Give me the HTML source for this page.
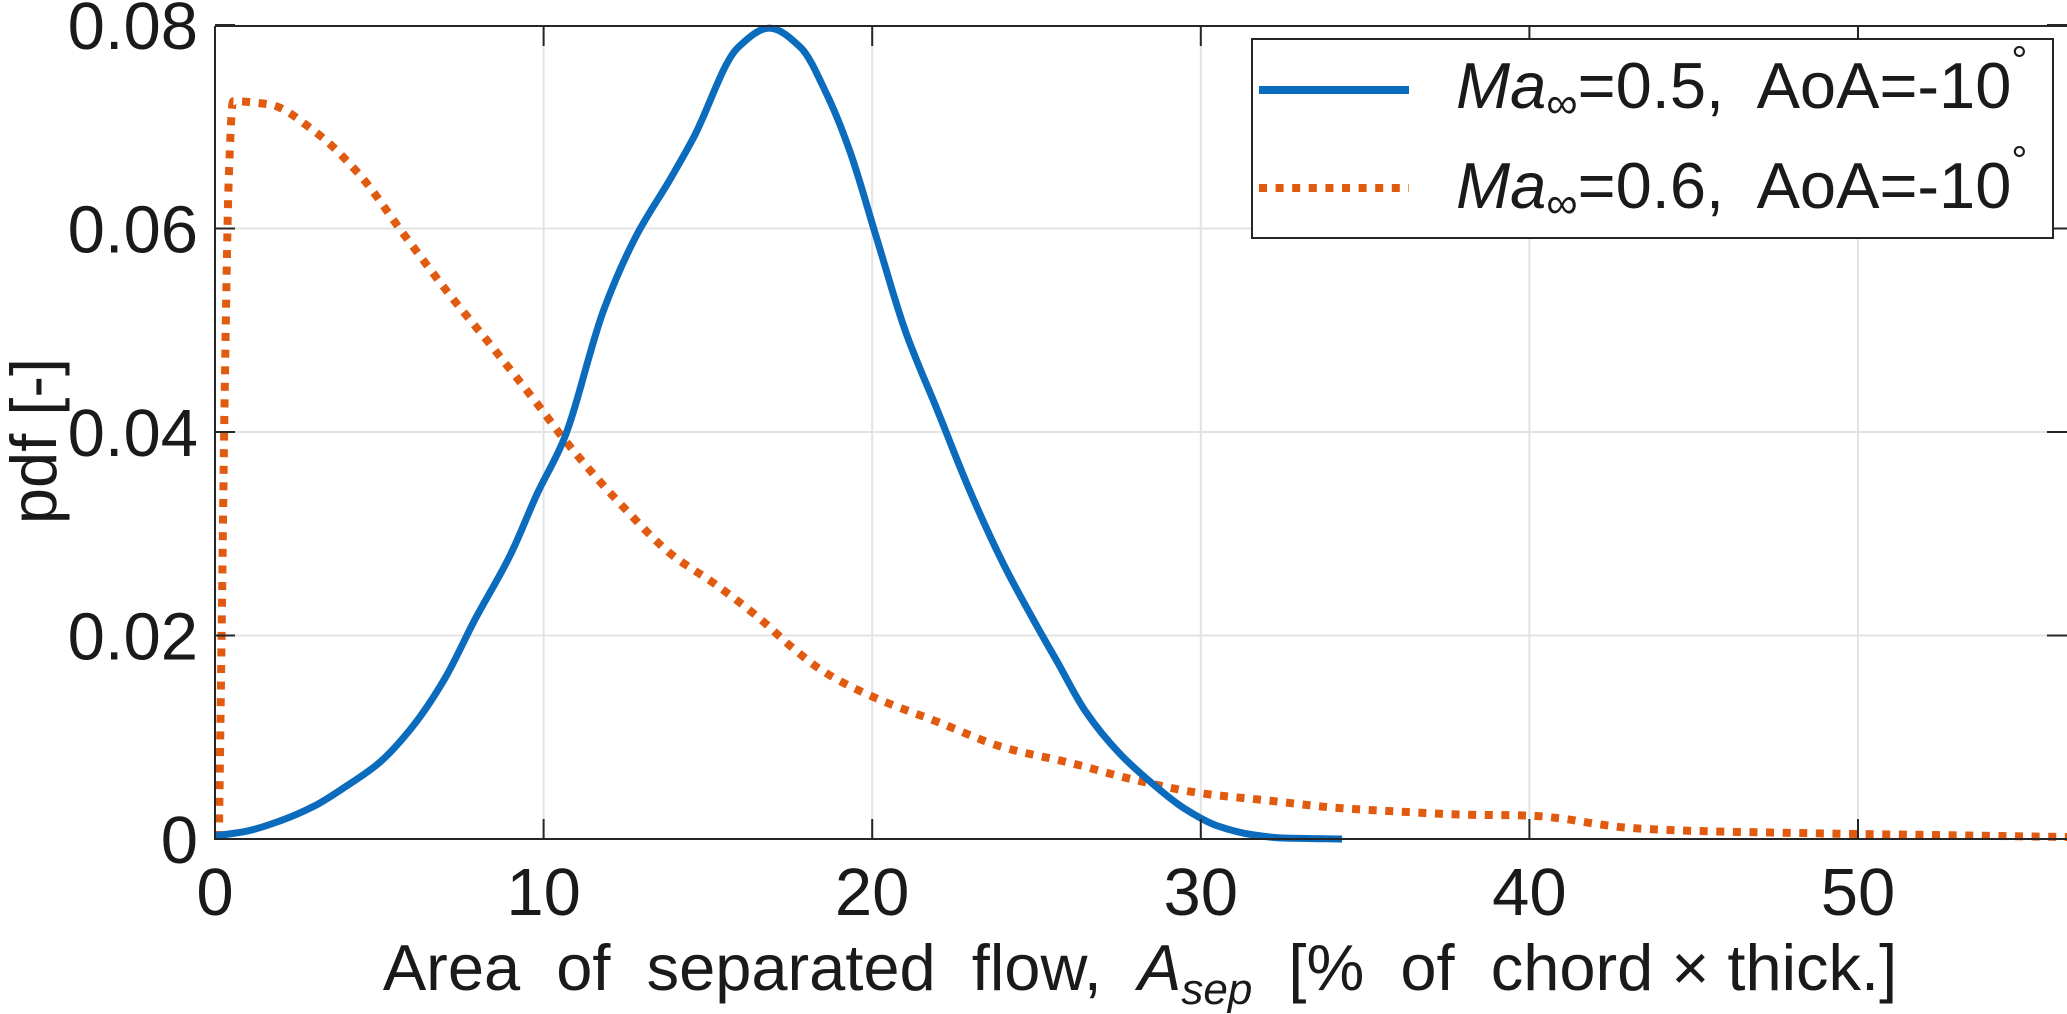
<!DOCTYPE html>
<html><head><meta charset="utf-8"><style>
html,body{margin:0;padding:0;background:#fff;}
svg{display:block;font-family:"Liberation Sans",Arial,sans-serif;}
</style></head><body>
<svg id="chart" width="2067" height="1014" viewBox="0 0 2067 1014" xmlns="http://www.w3.org/2000/svg">
<g id="grid"></g>
<g id="series"></g>
<g id="axes"></g>
<text x="1140" y="990" font-size="65" text-anchor="middle" fill="#1a1a1a" style="white-space:pre" xml:space="preserve">Area  of  separated  flow,  <tspan font-style="italic">A</tspan><tspan font-style="italic" font-size="44" dy="14">sep</tspan><tspan dy="-14">  [%  of  chord × thick.]</tspan></text>
<text x="0" y="0" font-size="65" text-anchor="middle" fill="#1a1a1a" transform="translate(56,441) rotate(-90)">pdf [-]</text>
<g>
<rect x="1252" y="39" width="801" height="199" fill="#fff" stroke="#262626" stroke-width="2"/>
<line x1="1259" y1="90" x2="1409" y2="90" stroke="#0b6cbd" stroke-width="8"/>
<line x1="1259" y1="188" x2="1409" y2="188" stroke="#e05a10" stroke-width="8" stroke-dasharray="8 8.6"/>
<text x="1456" y="108" font-size="65" fill="#1a1a1a" style="white-space:pre" xml:space="preserve"><tspan font-style="italic">Ma</tspan><tspan font-size="44" dy="10">∞</tspan><tspan dy="-10">=0.5,  AoA=-10</tspan><tspan font-size="40" dy="-34">°</tspan></text>
<text x="1456" y="208" font-size="65" fill="#1a1a1a" style="white-space:pre" xml:space="preserve"><tspan font-style="italic">Ma</tspan><tspan font-size="44" dy="10">∞</tspan><tspan dy="-10">=0.6,  AoA=-10</tspan><tspan font-size="40" dy="-34">°</tspan></text>
</g>
</svg>
<script>
const xTicks = [0, 10, 20, 30, 40, 50];
const yTicks = [0, 0.02, 0.04, 0.06, 0.08];
const yTickLabels = ["0", "0.02", "0.04", "0.06", "0.08"];
const blueX = [0, 1, 2, 3, 4, 5, 6, 7, 7.9, 9, 9.8, 10.62, 11.84, 12.79, 13.88, 14.56, 15.92, 16.87, 17.82, 18.63, 19.31, 20.13, 21, 22, 23, 24, 25, 25.6, 26.5, 27.5, 28.4, 29.5, 30.5, 31.6, 32.5, 34.3];
const blueY = [0.0003, 0.0008, 0.0018, 0.0032, 0.0052, 0.0075, 0.011, 0.0158, 0.0215, 0.028, 0.0339, 0.0393, 0.0521, 0.0591, 0.065, 0.0689, 0.0778, 0.0797, 0.0778, 0.0731, 0.0677, 0.0591, 0.050, 0.042, 0.034, 0.027, 0.021, 0.0176, 0.0125, 0.0085, 0.0058, 0.003, 0.0013, 0.0004, 0.0001, 0];
const orangeX = [0.12, 0.2, 0.3, 0.42, 0.55, 1.65, 3.01, 4.37, 5.73, 7.09, 8.45, 9.8, 10.62, 12.52, 13.88, 15.24, 16.6, 17.5, 18.5, 20, 22, 24, 26, 28, 30, 32, 34, 36, 38, 40, 41, 42, 43, 45, 48, 52, 56.4];
const orangeY = [0, 0.02, 0.045, 0.065, 0.0725, 0.0722, 0.0696, 0.0654, 0.0595, 0.0537, 0.0483, 0.0428, 0.0393, 0.0323, 0.028, 0.025, 0.0216, 0.019, 0.0165, 0.014, 0.0115, 0.009, 0.0075, 0.0058, 0.0045, 0.0038, 0.0031, 0.0027, 0.0024, 0.0023, 0.002, 0.0015, 0.0011, 0.0008, 0.0006, 0.0004, 0.0002];

const NS = "http://www.w3.org/2000/svg";
const X0 = 215, PX10 = 328.6, Y0 = 839, PY = 10175;
const XMAX = 2067, YTOP = 26;
function sx(v){ return X0 + v * PX10 / 10; }
function sy(v){ return Y0 - v * PY; }
function mk(tag, attrs, parent){
  const e = document.createElementNS(NS, tag);
  for (const k in attrs) e.setAttribute(k, attrs[k]);
  parent.appendChild(e); return e;
}
const grid = document.getElementById('grid');
const axes = document.getElementById('axes');
const series = document.getElementById('series');

xTicks.forEach(t => {
  const x = sx(t);
  if (t > 0) {
    const g = mk('line', {x1:x, y1:YTOP, x2:x, y2:Y0, stroke:'#e3e3e3', 'stroke-width':2}, grid);
    
    
  }
  const tk = mk('path', {d:`M${x},${Y0}v-20M${x},${YTOP}v20`, stroke:'#262626', 'stroke-width':2, fill:'none'}, axes);
  
  
  const lb = mk('text', {x:x, y:915, 'font-size':67, 'text-anchor':'middle', fill:'#1a1a1a'}, axes);
  lb.textContent = String(t);
  
  
});
yTicks.forEach((t, i) => {
  const y = sy(t);
  if (t > 0 && t < 0.08) {
    const g = mk('line', {x1:X0, y1:y, x2:XMAX, y2:y, stroke:'#e3e3e3', 'stroke-width':2}, grid);
    
    
  }
  const tk = mk('path', {d:`M${X0},${y}h20M${XMAX},${y}h-20`, stroke:'#262626', 'stroke-width':2, fill:'none'}, axes);
  
  
  const lb = mk('text', {x:198, y:y + 24, 'font-size':67, 'text-anchor':'end', fill:'#1a1a1a'}, axes);
  lb.textContent = yTickLabels[i];
  
  
});
const frame = mk('path', {d:`M${X0},${YTOP}H${XMAX}M${X0},${YTOP}V${Y0}H${XMAX}`, stroke:'#262626', 'stroke-width':2, fill:'none'}, axes);



// monotone cubic (Fritsch-Carlson) smooth path in pixel space
function smoothPath(xs, ys){
  const px = xs.map(sx), py = ys.map(sy), n = px.length;
  const d = [], m = new Array(n);
  for (let i = 0; i < n - 1; i++) d.push((py[i+1] - py[i]) / (px[i+1] - px[i]));
  m[0] = d[0]; m[n-1] = d[n-2];
  for (let i = 1; i < n - 1; i++) {
    if (d[i-1] * d[i] <= 0) m[i] = 0;
    else {
      const h0 = px[i] - px[i-1], h1 = px[i+1] - px[i];
      const w1 = 2*h1 + h0, w2 = h1 + 2*h0;
      m[i] = (w1 + w2) / (w1 / d[i-1] + w2 / d[i]);
    }
  }
  let s = 'M' + px[0].toFixed(1) + ',' + py[0].toFixed(1);
  for (let i = 0; i < n - 1; i++) {
    const h = (px[i+1] - px[i]) / 3;
    s += 'C' + (px[i] + h).toFixed(1) + ',' + (py[i] + m[i]*h).toFixed(1) + ' ' +
         (px[i+1] - h).toFixed(1) + ',' + (py[i+1] - m[i+1]*h).toFixed(1) + ' ' +
         px[i+1].toFixed(1) + ',' + py[i+1].toFixed(1);
  }
  return s;
}
const clip = mk('clipPath', {id:'plotclip'}, series);
mk('rect', {x:X0 - 10, y:YTOP - 10, width:XMAX - X0 + 10, height:Y0 - YTOP + 20}, clip);
const orange = mk('path', {d:smoothPath(orangeX, orangeY), stroke:'#e05a10', 'stroke-width':8, fill:'none', 'stroke-dasharray':'8 8.6', 'stroke-linejoin':'round', 'clip-path':'url(#plotclip)'}, series);


const blue = mk('path', {d:smoothPath(blueX, blueY), stroke:'#0b6cbd', 'stroke-width':7, fill:'none', 'stroke-linejoin':'round', 'clip-path':'url(#plotclip)'}, series);


</script>
</body></html>
